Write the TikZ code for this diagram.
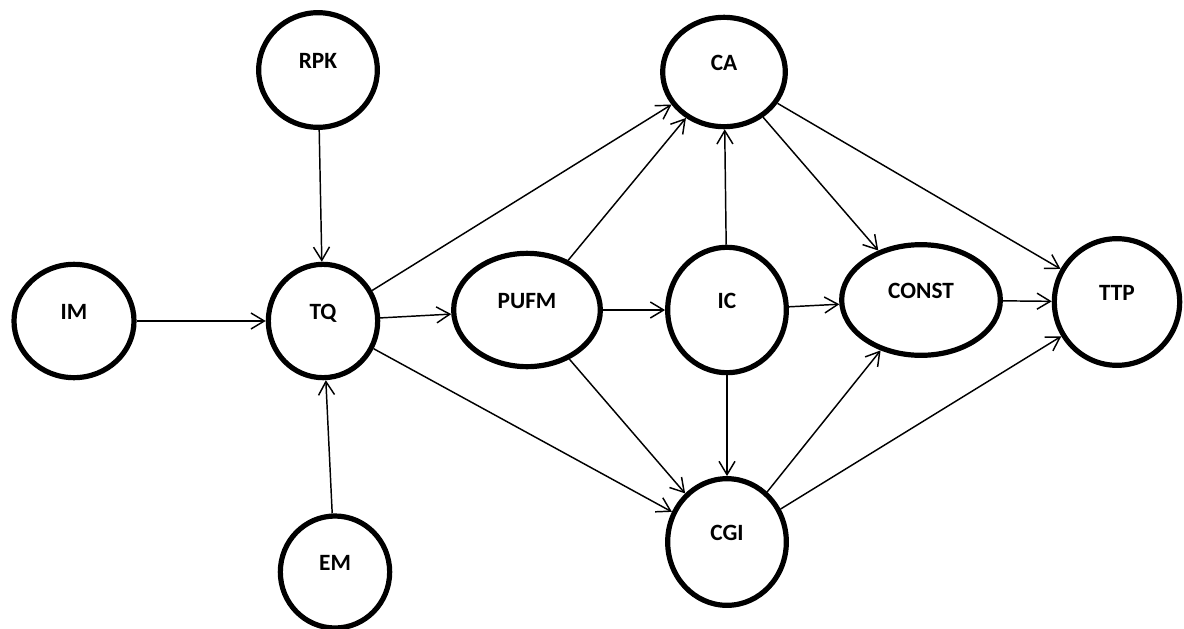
\documentclass[tikz,border=0pt]{standalone}
\usepackage{fontspec}
\setmainfont{Carlito}
\usetikzlibrary{shapes.geometric,arrows.meta}

\tikzset{
	var/.style={ellipse, draw, line width=3.9pt, inner sep=0pt, text depth=13pt, font=\bfseries\fontsize{17.5}{19}\selectfont},
	link/.style={-{Straight Barb[length=10pt,width=12pt]}, line width=1.1pt},
}

\begin{document}
\begin{tikzpicture}[x=0.75pt,y=0.75pt,yscale=-1,xscale=1]
		\useasboundingbox (0,0) rectangle (1184,628);
		
		%Shape: Ellipse [RPK]
		\node [var, minimum width=89pt, minimum height=86pt] (rpk) at (318,70) {RPK};
		%Shape: Ellipse [IM]
		\node [var, minimum width=90pt, minimum height=85pt] (im) at (74,321) {IM};
		%Shape: Ellipse [TQ]
		\node [var, minimum width=82pt, minimum height=85pt] (tq) at (323,321) {TQ};
		%Shape: Ellipse [EM]
		\node [var, minimum width=82pt, minimum height=84pt] (em) at (335,572) {EM};
		%Shape: Ellipse [PUFM]
		\node [var, minimum width=110pt, minimum height=85pt] (pufm) at (527,310) {PUFM};
		%Shape: Ellipse [CA]
		\node [var, minimum width=92pt, minimum height=82pt] (ca) at (724,72) {CA};
		%Shape: Ellipse [IC]
		\node [var, minimum width=89pt, minimum height=94pt] (ic) at (727,310) {IC};
		%Shape: Ellipse [CGI]
		\node [var, minimum width=89pt, minimum height=95pt] (cgi) at (727,542) {CGI};
		%Shape: Ellipse [CONST]
		\node [var, minimum width=119pt, minimum height=83pt] (const) at (921,300) {CONST};
		%Shape: Ellipse [TTP]
		\node [var, minimum width=94pt, minimum height=95pt] (ttp) at (1117,302) {TTP};
		
		%Straight Lines
		\draw [link] (rpk) -- (tq);
		\draw [link] (im) -- (tq);
		\draw [link] (em) -- (tq);
		\draw [link] (tq) -- (ca);
		\draw [link] (tq) -- (pufm);
		\draw [link] (tq) -- (cgi);
		\draw [link] (pufm) -- (ca);
		\draw [link] (pufm) -- (ic);
		\draw [link] (pufm) -- (cgi);
		\draw [link] (ic) -- (ca);
		\draw [link] (ic) -- (cgi);
		\draw [link] (ic) -- (const);
		\draw [link] (ca) -- (const);
		\draw [link] (ca) -- (ttp);
		\draw [link] (cgi) -- (const);
		\draw [link] (cgi) -- (ttp);
		\draw [link] (const) -- (ttp);
		
\end{tikzpicture}
\end{document}
